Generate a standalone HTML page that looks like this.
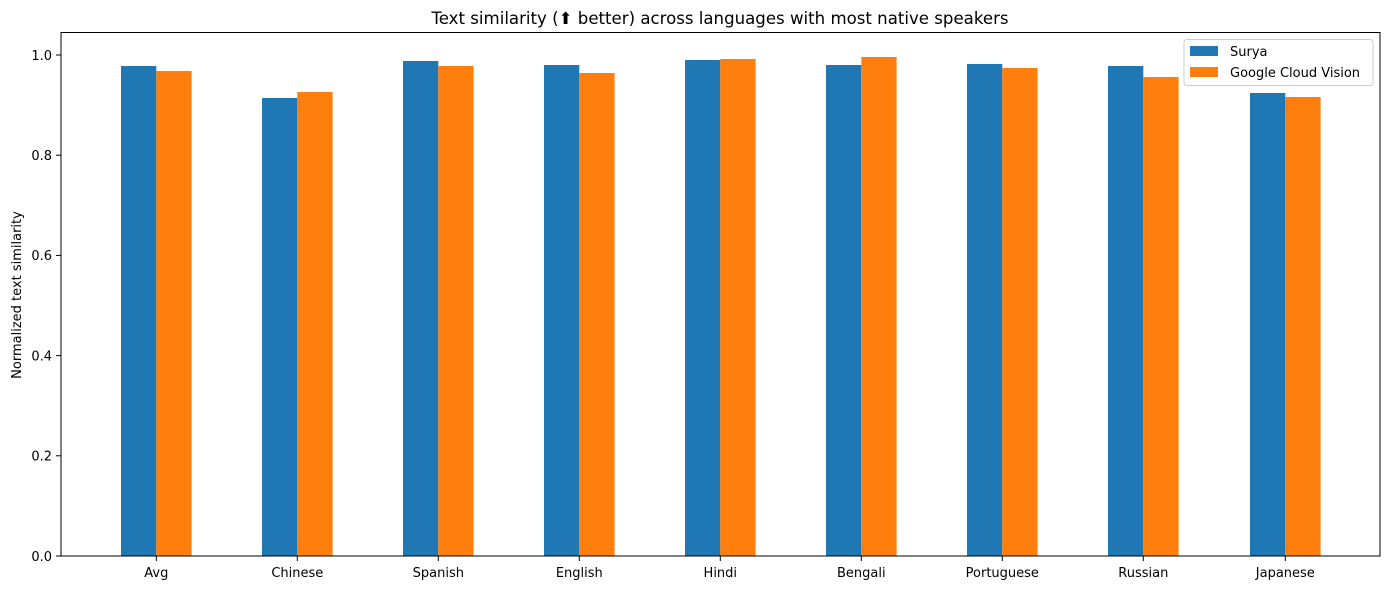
<!DOCTYPE html>
<html><head><meta charset="utf-8"><style>body{margin:0;background:#fff}</style></head><body>
<svg width="1389" height="590" xmlns="http://www.w3.org/2000/svg" font-family="'DejaVu Sans','Liberation Sans',sans-serif">
<rect width="1389" height="590" fill="#fff"/>
<text x="720" y="24" text-anchor="middle" font-size="16.6">Text similarity (⬆ better) across languages with most native speakers</text>
<g id="bars">
<rect x="121" y="66" width="35.3" height="490" fill="#1f77b4"/><rect x="156.3" y="71" width="35.3" height="485" fill="#ff7f0e"/>
<rect x="262" y="98" width="35.3" height="458" fill="#1f77b4"/><rect x="297.3" y="92" width="35.3" height="464" fill="#ff7f0e"/>
<rect x="403" y="61" width="35.3" height="495" fill="#1f77b4"/><rect x="438.3" y="66" width="35.3" height="490" fill="#ff7f0e"/>
<rect x="544" y="65" width="35.3" height="491" fill="#1f77b4"/><rect x="579.3" y="73" width="35.3" height="483" fill="#ff7f0e"/>
<rect x="685" y="60" width="35.3" height="496" fill="#1f77b4"/><rect x="720.3" y="59" width="35.3" height="497" fill="#ff7f0e"/>
<rect x="826" y="65" width="35.3" height="491" fill="#1f77b4"/><rect x="861.3" y="57" width="35.3" height="499" fill="#ff7f0e"/>
<rect x="967" y="64" width="35.3" height="492" fill="#1f77b4"/><rect x="1002.3" y="68" width="35.3" height="488" fill="#ff7f0e"/>
<rect x="1108" y="66" width="35.3" height="490" fill="#1f77b4"/><rect x="1143.3" y="77" width="35.3" height="479" fill="#ff7f0e"/>
<rect x="1250" y="93" width="35.3" height="463" fill="#1f77b4"/><rect x="1285.3" y="97" width="35.3" height="459" fill="#ff7f0e"/>
</g>
<rect x="61" y="32.5" width="1319" height="523.5" fill="none" stroke="#000" stroke-width="1"/>
<g stroke="#000">
<line x1="56" x2="61" y1="556" y2="556"/><line x1="56" x2="61" y1="455.8" y2="455.8"/><line x1="56" x2="61" y1="355.6" y2="355.6"/><line x1="56" x2="61" y1="255.4" y2="255.4"/><line x1="56" x2="61" y1="155.2" y2="155.2"/><line x1="56" x2="61" y1="55" y2="55"/>
<line x1="156.3" x2="156.3" y1="556" y2="561"/><line x1="297.3" x2="297.3" y1="556" y2="561"/><line x1="438.3" x2="438.3" y1="556" y2="561"/><line x1="579.3" x2="579.3" y1="556" y2="561"/><line x1="720.3" x2="720.3" y1="556" y2="561"/><line x1="861.3" x2="861.3" y1="556" y2="561"/><line x1="1002.3" x2="1002.3" y1="556" y2="561"/><line x1="1143.3" x2="1143.3" y1="556" y2="561"/><line x1="1285.3" x2="1285.3" y1="556" y2="561"/>
</g>
<g font-size="13" text-anchor="end">
<text x="52" y="561">0.0</text><text x="52" y="460.5">0.2</text><text x="52" y="360.5">0.4</text><text x="52" y="260">0.6</text><text x="52" y="160">0.8</text><text x="52" y="60">1.0</text>
</g>
<g font-size="13" text-anchor="middle">
<text x="156.3" y="577">Avg</text><text x="297.3" y="577">Chinese</text><text x="438.3" y="577">Spanish</text><text x="579.3" y="577">English</text><text x="720.3" y="577">Hindi</text><text x="861.3" y="577">Bengali</text><text x="1002.3" y="577">Portuguese</text><text x="1143.3" y="577">Russian</text><text x="1285.3" y="577">Japanese</text>
</g>
<text transform="translate(21,295) rotate(-90)" text-anchor="middle" font-size="13">Normalized text similarity</text>
<rect x="1184" y="39.5" width="189" height="46" rx="3" fill="#fff" stroke="#ccc"/>
<rect x="1190" y="46" width="28" height="10" fill="#1f77b4"/>
<rect x="1190" y="67" width="28" height="10" fill="#ff7f0e"/>
<text x="1230" y="56" font-size="13">Surya</text>
<text x="1230" y="77" font-size="13">Google Cloud Vision</text>
</svg>
</body></html>
